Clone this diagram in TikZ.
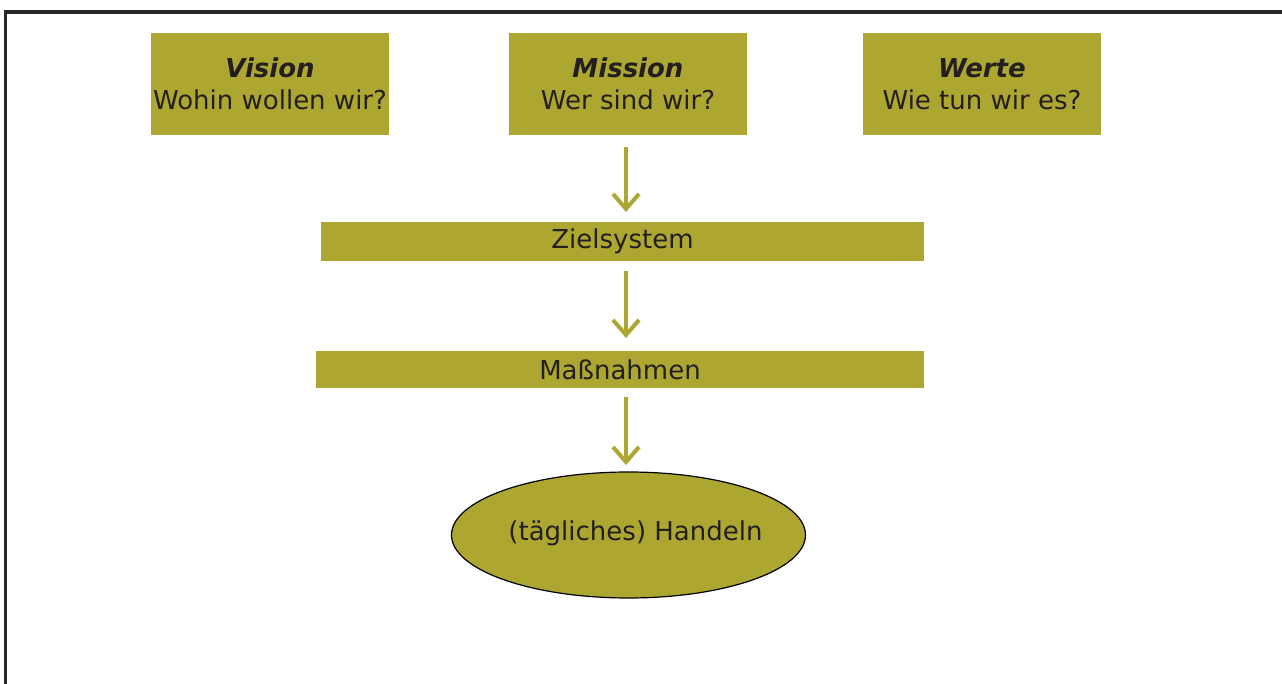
\documentclass[tikz,border=0pt]{standalone}
\usepackage{fontspec}
\setmainfont{DejaVu Sans}
\usepackage{xcolor}
\usetikzlibrary{arrows.meta,shapes.geometric}
\definecolor{olive}{RGB}{173,167,50}
\definecolor{ink}{RGB}{35,31,32}

\begin{document}
\begin{tikzpicture}[x=0.5pt, y=-0.5pt, font=\fontsize{13}{16}\selectfont, text=ink,
  box/.style={fill=olive, inner sep=0pt, minimum width=119pt, minimum height=51pt, align=center},
  bar/.style={fill=olive, inner sep=0pt},
  flow/.style={-{Straight Barb[length=7.5pt, width=13pt, line width=2pt]}, olive, line width=2pt}]
   \useasboundingbox (0,0) rectangle (1282,684);
   \draw [line width=1.6pt, black!85] (5.5,684) -- (5.5,12) -- (1282,12);

   \node [box] (vision) at (270 , 84) {\textbf{\textit{Vision}}\\Wohin wollen wir?};
   \node [box] (mission) at (628 , 84) {\textbf{\textit{Mission}}\\Wer sind wir?};
   \node [box] (werte) at (982 , 84) {\textbf{\textit{Werte}}\\Wie tun wir es?};
   \node [bar, minimum width=301.5pt, minimum height=19.5pt] (ziel) at (622.5 , 241.5) {Zielsystem};
   \node [bar, minimum width=304pt, minimum height=18.5pt] (massnahmen) at (620 , 369.5) {Maßnahmen};
   \node [ellipse, draw=black, line width=0.6pt, fill=olive, minimum width=177pt, minimum height=63pt, inner sep=0pt] (handeln) at (628.5 , 535) {\raisebox{4pt}{\makebox[0pt]{\hspace{7pt}(tägliches) Handeln}}};

   \draw [flow, shorten <=6pt, shorten >=5pt] (626,135) -- (626,222);
   \draw [flow, shorten <=5pt, shorten >=6.5pt] (626,261) -- (626,351);
   \draw [flow, shorten <=4.5pt, shorten >=3.5pt] (626,388) -- (626,472);
\end{tikzpicture}
\end{document}
